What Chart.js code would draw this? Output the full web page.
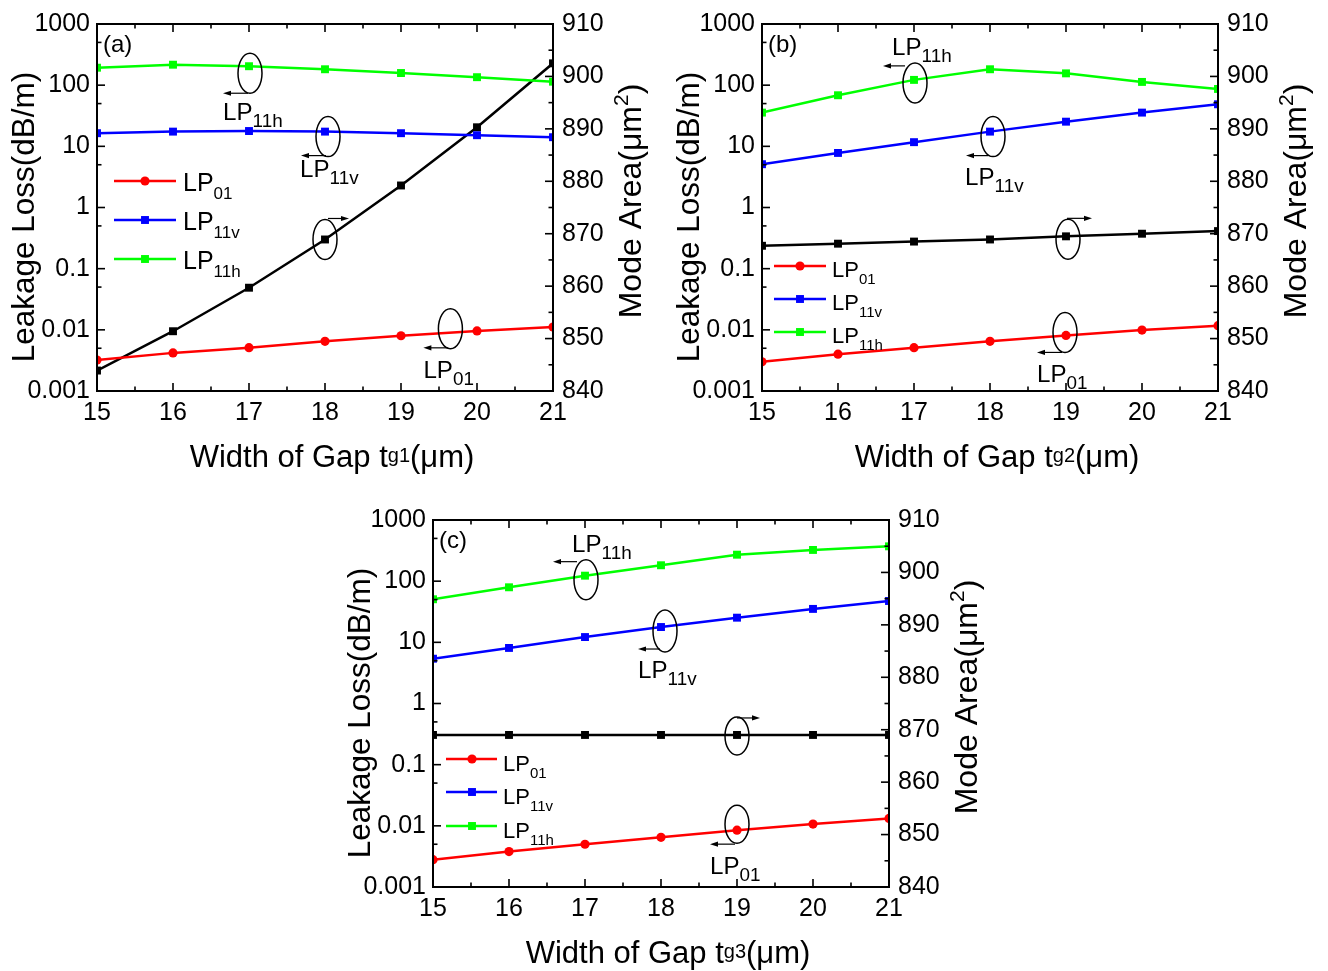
<!DOCTYPE html>
<html>
<head>
<meta charset="utf-8">
<script src="https://cdn.jsdelivr.net/npm/chart.js@4.4.1/dist/chart.umd.min.js"></script>
<style>
  body { margin: 0; background: #fff; width: 1328px; height: 971px; position: relative; overflow: hidden; }
  canvas { position: absolute; }
</style>
</head>
<body>
<canvas id="panelA" width="660" height="480" style="left:0;top:0"></canvas>
<canvas id="panelB" width="660" height="480" style="left:665px;top:0"></canvas>
<canvas id="panelC" width="660" height="475" style="left:336px;top:496px"></canvas>
<script>
const gapWidths = [15, 16, 17, 18, 19, 20, 21];
const lossTicks = [0.001, 0.01, 0.1, 1, 10, 100, 1000];
const areaTicks = [840, 850, 860, 870, 880, 890, 900, 910];

// (a) gap t_g1
const lp01A = [0.0032, 0.0042, 0.0051, 0.0065, 0.0080, 0.0096, 0.0111];
const lp11vA = [16.4, 17.4, 17.8, 17.4, 16.4, 15.2, 14.1];
const lp11hA = [193, 216, 204, 182, 158, 135, 114];
const areaA = [843.9, 851.4, 859.7, 868.9, 879.2, 890.3, 902.5];

// (b) gap t_g2
const lp01B = [0.0030, 0.0040, 0.0051, 0.0065, 0.0081, 0.0099, 0.0117];
const lp11vB = [5.1, 7.8, 11.7, 17.4, 25.3, 35.6, 48.7];
const lp11hB = [35.6, 68.4, 122, 182, 156, 113, 86.7];
const areaB = [867.7, 868.1, 868.5, 868.9, 869.5, 870.0, 870.5];

// (c) gap t_g3
const lp01C = [0.0028, 0.0038, 0.0050, 0.0065, 0.0085, 0.0107, 0.0132];
const lp11vC = [5.4, 8.1, 12.2, 17.8, 25.3, 35.2, 47.4];
const lp11hC = [50.6, 79.4, 123, 182, 271, 324, 371];
const areaC = [869.0, 869.0, 869.0, 869.0, 869.0, 869.0, 869.0];

const FONT = '"Liberation Sans", Arial, sans-serif';

const styles = {
    lp01: { color: "#ff0000", shape: "circle", r: 4.6, name: ["LP", "01"] },
    lp11v: { color: "#0000ff", shape: "rect", r: 5.6, name: ["LP", "11v"] },
    lp11h: { color: "#00ff00", shape: "rect", r: 5.6, name: ["LP", "11h"] },
    area: { color: "#000000", shape: "rect", r: 5.6 }
};

// text with sub/superscript pieces: [text, kind]; sx widens the glyphs a bit
function richText(ctx, x, y, parts, size, align, subScale = 0.66, sx = 1) {
    const fontOf = k => (k ? Math.round(size * subScale) : size) + "px " + FONT;
    let w = 0;
    parts.forEach(p => { ctx.font = fontOf(p[1]); w += ctx.measureText(p[0]).width; });
    ctx.save();
    ctx.translate(x, y);
    ctx.scale(sx, 1);
    let cx = align === "center" ? -w / 2 : 0;
    ctx.textAlign = "left";
    ctx.textBaseline = "alphabetic";
    parts.forEach(p => {
        ctx.font = fontOf(p[1]);
        let dy = 0;
        if (p[1] === "sub") dy = size * 0.3;
        if (p[1] === "sup") dy = -size * 0.42;
        if (p[1] === "small") dy = -size * 0.17;
        ctx.fillText(p[0], cx, dy);
        cx += ctx.measureText(p[0]).width;
    });
    ctx.restore();
}

function marker(ctx, shape, x, y, r, color) {
    ctx.fillStyle = color;
    ctx.beginPath();
    if (shape === "circle") {
        ctx.arc(x, y, r, 0, Math.PI * 2);
    } else {
        const s = r * Math.SQRT1_2;
        ctx.rect(x - s, y - s, 2 * s, 2 * s);
    }
    ctx.fill();
}

function arrow(ctx, x0, x1, y) {
    const dir = Math.sign(x1 - x0);
    ctx.lineWidth = 1.2;
    ctx.beginPath();
    ctx.moveTo(x0, y);
    ctx.lineTo(x1 - dir * 6, y);
    ctx.stroke();
    ctx.beginPath();
    ctx.moveTo(x1, y);
    ctx.lineTo(x1 - dir * 8, y - 2.6);
    ctx.lineTo(x1 - dir * 8, y + 2.6);
    ctx.closePath();
    ctx.fill();
}

function makeDecor(cfg) {
    return {
        id: "decor",
        afterDraw(chart) {
            const { ctx, chartArea: a, scales } = chart;
            const x = scales.x, y = scales.y, y2 = scales.y2;
            ctx.save();
            ctx.strokeStyle = "#000";
            ctx.fillStyle = "#000";

            // frame
            ctx.lineWidth = 2;
            ctx.strokeRect(a.left, a.top, a.right - a.left, a.bottom - a.top);

            // inward tick marks
            ctx.lineWidth = 1.6;
            const seg = (x0, y0, x1, y1) => { ctx.beginPath(); ctx.moveTo(x0, y0); ctx.lineTo(x1, y1); ctx.stroke(); };
            for (let v = gapWidths[0]; v <= gapWidths[gapWidths.length - 1]; v += 0.5) {
                const px = x.getPixelForValue(v);
                const len = Number.isInteger(v) ? 8 : 4.5;
                seg(px, a.bottom, px, a.bottom - len);
                seg(px, a.top, px, a.top + len);
            }
            lossTicks.forEach((v, i) => {
                const py = y.getPixelForValue(v);
                seg(a.left, py, a.left + 8, py);
                if (i < lossTicks.length - 1) {
                    const pm = y.getPixelForValue(v * 5);
                    seg(a.left, pm, a.left + 4.5, pm);
                }
            });
            areaTicks.forEach((v, i) => {
                const py = y2.getPixelForValue(v);
                seg(a.right, py, a.right - 8, py);
                if (i < areaTicks.length - 1) {
                    const pm = y2.getPixelForValue(v + 5);
                    seg(a.right, pm, a.right - 4.5, pm);
                }
            });

            // panel tag
            ctx.font = "24px " + FONT;
            ctx.textAlign = "left";
            ctx.fillText(cfg.tag, a.left + 6, a.top + 28);

            // axis titles
            richText(ctx, 332, 467, [["Width of Gap t", ""], [cfg.gap, "small"], ["(\u03bcm)", ""]], 31, "center");
            ctx.save();
            ctx.translate(34, 217);
            ctx.rotate(-Math.PI / 2);
            richText(ctx, 0, 0, [["Leakage Loss(dB/m)", ""]], 31.5, "center");
            ctx.restore();
            ctx.save();
            ctx.translate(641, 201);
            ctx.rotate(-Math.PI / 2);
            richText(ctx, 0, 0, [["Mode Area(\u03bcm", ""], ["2", "sup"], [")", ""]], 32, "center");
            ctx.restore();

            // legend
            const lg = cfg.legend;
            ["lp01", "lp11v", "lp11h"].forEach((key, i) => {
                const st = styles[key];
                const ly = lg.rows[i];
                ctx.strokeStyle = st.color;
                ctx.lineWidth = 2.5;
                seg(lg.x0, ly, lg.x1, ly);
                marker(ctx, st.shape, lg.mx, ly, st.r, st.color);
                ctx.fillStyle = "#000";
                richText(ctx, lg.tx, ly + lg.dyText, [[st.name[0], ""], [st.name[1], "sub"]], lg.font, "left");
            });

            // callouts: ellipse around a point, arrow to its axis, mode name
            ctx.strokeStyle = "#000";
            ctx.fillStyle = "#000";
            cfg.notes.forEach(n => {
                let px, py;
                if (n.on) {
                    const idx = chart.data.datasets.findIndex(d => d.key === n.on[0]);
                    const pt = chart.getDatasetMeta(idx).data[n.on[1]];
                    px = pt.x; py = pt.y;
                } else {
                    px = x.getPixelForValue(n.at[0]);
                    py = y.getPixelForValue(n.at[1]);
                }
                ctx.lineWidth = 1.5;
                ctx.beginPath();
                ctx.ellipse(px + n.e[0], py + n.e[1], n.e[2], n.e[3], 0, 0, Math.PI * 2);
                ctx.stroke();
                arrow(ctx, px + n.arr[0], px + n.arr[1], py + n.arr[2]);
                if (n.text) {
                    richText(ctx, px + n.t[0], py + n.t[1], [["LP", ""], [n.text, "sub"]], cfg.noteFont, "left", 0.78, 1.05);
                }
            });
            ctx.restore();
        }
    };
}

function series(key, values, axis) {
    const st = styles[key];
    return {
        key: key,
        data: gapWidths.map((g, i) => ({ x: g, y: values[i] })),
        yAxisID: axis,
        borderColor: st.color,
        backgroundColor: st.color,
        borderWidth: 2.5,
        pointStyle: st.shape,
        pointRadius: st.r,
        pointBorderWidth: 0,
        pointBackgroundColor: st.color,
        tension: 0,
        clip: 0
    };
}

function buildPanel(id, lp01, lp11v, lp11h, area, cfg) {
    const canvas = document.getElementById(id);
    const tickFont = { family: FONT, size: 25 };
    new Chart(canvas, {
        type: "line",
        data: {
            datasets: [
                series("lp01", lp01, "y"),
                series("lp11v", lp11v, "y"),
                series("lp11h", lp11h, "y"),
                series("area", area, "y2")
            ]
        },
        options: {
            responsive: false,
            animation: false,
            events: [],
            layout: { padding: { top: 24, left: 0, right: 0, bottom: 0 } },
            plugins: { legend: { display: false }, tooltip: { enabled: false } },
            scales: {
                x: {
                    type: "linear",
                    min: 15,
                    max: 21,
                    grid: { display: false, drawTicks: false },
                    border: { display: false },
                    ticks: { stepSize: 1, padding: 7, color: "#000", font: tickFont, autoSkip: false, maxRotation: 0 },
                    afterFit: s => { s.height = canvas.height - 391; }
                },
                y: {
                    type: "logarithmic",
                    position: "left",
                    min: 0.001,
                    max: 1000,
                    grid: { display: false, drawTicks: false },
                    border: { display: false },
                    afterBuildTicks: s => { s.ticks = lossTicks.map(v => ({ value: v })); },
                    ticks: { padding: 7, color: "#000", font: tickFont, autoSkip: false, callback: v => String(v) },
                    afterFit: s => { s.width = 97; }
                },
                y2: {
                    type: "linear",
                    position: "right",
                    min: 840,
                    max: 910,
                    grid: { display: false, drawTicks: false },
                    border: { display: false },
                    afterBuildTicks: s => { s.ticks = areaTicks.map(v => ({ value: v })); },
                    ticks: { padding: 9, color: "#000", font: tickFont, autoSkip: false },
                    afterFit: s => { s.width = 107; }
                }
            }
        },
        plugins: [makeDecor(cfg)]
    });
}

buildPanel("panelA", lp01A, lp11vA, lp11hA, areaA, {
    tag: "(a)",
    gap: "g1",
    noteFont: 23,
    legend: { x0: 114, x1: 176, mx: 145, tx: 183, rows: [181, 220, 259], dyText: 10, font: 25 },
    notes: [
        { on: ["lp11h", 2], e: [1, 7, 12, 20], arr: [-1, -26, 27], text: "11h", t: [-26, 54] },
        { on: ["lp11v", 3], e: [3, 5, 12, 20], arr: [1, -24, 24], text: "11v", t: [-25, 45] },
        { on: ["area", 3], e: [0, 0, 12, 20], arr: [3, 24, -21] },
        { at: [19.65, 0.01], e: [0, -1, 12, 20], arr: [-2, -27, 18], text: "01", t: [-27, 48] }
    ]
});

buildPanel("panelB", lp01B, lp11vB, lp11hB, areaB, {
    tag: "(b)",
    gap: "g2",
    noteFont: 23,
    legend: { x0: 109, x1: 161, mx: 135, tx: 167, rows: [266, 299, 332], dyText: 11, font: 22 },
    notes: [
        { on: ["lp11h", 2], e: [1, 3, 12, 20], arr: [-9, -31, -14], text: "11h", t: [-22, -25] },
        { on: ["lp11v", 3], e: [3, 5, 12, 20], arr: [-2, -24, 24], text: "11v", t: [-25, 53] },
        { on: ["area", 4], e: [2, 3, 12, 20], arr: [1, 26, -18] },
        { on: ["lp01", 4], e: [-1, -3, 12, 20], arr: [-4, -29, 17], text: "01", t: [-29, 47] }
    ]
});

buildPanel("panelC", lp01C, lp11vC, lp11hC, areaC, {
    tag: "(c)",
    gap: "g3",
    noteFont: 23,
    legend: { x0: 110, x1: 161, mx: 136, tx: 167, rows: [263, 296, 330], dyText: 12, font: 22 },
    notes: [
        { on: ["lp11h", 2], e: [1, 4, 12, 20], arr: [-8, -32, -14], text: "11h", t: [-13, -24] },
        { on: ["lp11v", 3], e: [4, 4, 12, 21], arr: [-1, -23, 22], text: "11v", t: [-23, 51] },
        { on: ["area", 4], e: [0, 1, 12, 19], arr: [0, 23, -17] },
        { on: ["lp01", 4], e: [0, -6, 12, 19], arr: [-2, -27, 14], text: "01", t: [-27, 44] }
    ]
});
</script>
</body>
</html>
